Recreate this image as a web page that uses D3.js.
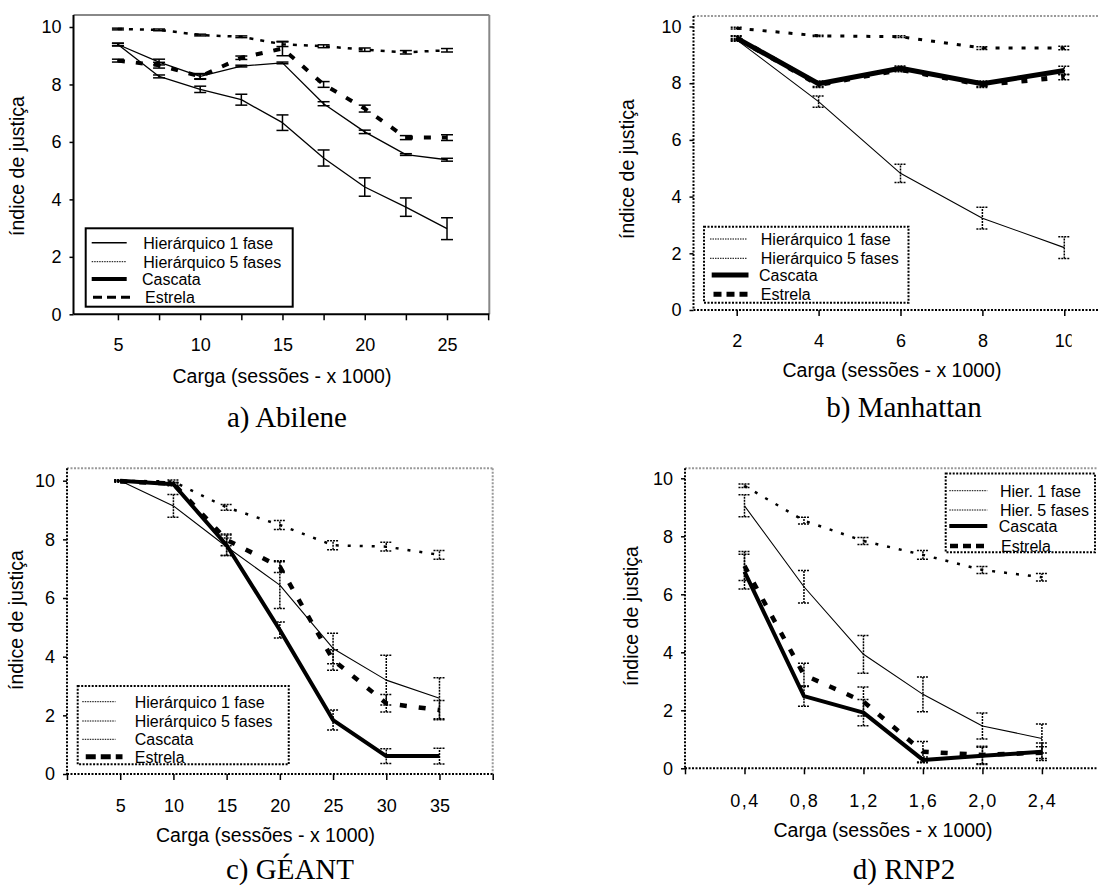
<!DOCTYPE html>
<html lang="pt">
<head>
  <meta charset="UTF-8">
  <title>Índice de justiça por carga</title>
  <script src="https://d3js.org/d3.v7.min.js"></script>
  <style>
    body { margin: 0; background: #fff; }
    svg { display: block; font-family: "Liberation Sans", Arial, sans-serif; }
  </style>
</head>
<body>
<svg id="fig" width="1098" height="887"></svg>
<script>
  // ---- values ----
  const seriesKeys = ["h1", "h5", "cascata", "estrela"];
  const seriesNames = ["Hierárquico 1 fase", "Hierárquico 5 fases", "Cascata", "Estrela"];
  const seriesNamesShort = ["Hier. 1 fase", "Hier. 5 fases", "Cascata", "Estrela"];

  // a) Abilene
  const abileneLoad = [5, 7.5, 10, 12.5, 15, 17.5, 20, 22.5, 25];
  const abileneH1 = [9.39, 8.28, 7.83, 7.47, 6.67, 5.44, 4.43, 3.73, 2.98];
  const abileneH1Err = [0.04, 0.05, 0.11, 0.19, 0.27, 0.28, 0.32, 0.32, 0.38];
  const abileneH5 = [9.93, 9.9, 9.72, 9.66, 9.4, 9.33, 9.21, 9.12, 9.19];
  const abileneH5Err = [0.03, 0.03, 0.03, 0.03, 0.08, 0.05, 0.06, 0.06, 0.06];
  const abileneCascata = [9.39, 8.78, 8.28, 8.64, 8.75, 7.33, 6.35, 5.56, 5.38];
  const abileneCascataErr = [0.05, 0.1, 0.08, 0.03, 0.03, 0.07, 0.06, 0.03, 0.05];
  const abileneEstrela = [8.83, 8.67, 8.28, 8.93, 9.25, 8.0, 7.16, 6.15, 6.15];
  const abileneEstrelaErr = [0.05, 0.1, 0.1, 0.06, 0.25, 0.1, 0.12, 0.07, 0.1];

  // b) Manhattan
  const manhattanLoad = [2, 4, 6, 8, 10];
  const manhattanH1 = [9.53, 7.35, 4.82, 3.24, 2.2];
  const manhattanH1Err = [0.05, 0.2, 0.32, 0.38, 0.38];
  const manhattanH5 = [9.94, 9.67, 9.64, 9.24, 9.24];
  const manhattanH5Err = [0.03, 0.02, 0.03, 0.05, 0.06];
  const manhattanCascata = [9.59, 7.98, 8.53, 7.98, 8.45];
  const manhattanCascataErr = [0.08, 0.1, 0.08, 0.1, 0.15];
  const manhattanEstrela = [9.6, 7.95, 8.48, 7.95, 8.22];
  const manhattanEstrelaErr = [0.06, 0.1, 0.08, 0.1, 0.1];

  // c) GÉANT
  const geantLoad = [5, 10, 15, 20, 25, 30, 35];
  const geantH1 = [10.0, 9.14, 7.75, 6.44, 4.28, 3.2, 2.58];
  const geantH1Err = [0.02, 0.39, 0.3, 0.8, 0.52, 0.85, 0.7];
  const geantH5 = [10.0, 9.97, 9.09, 8.49, 7.8, 7.75, 7.47];
  const geantH5Err = [0.02, 0.05, 0.1, 0.15, 0.15, 0.15, 0.15];
  const geantCascata = [10.0, 9.88, 7.8, 4.91, 1.84, 0.61, 0.61];
  const geantCascataErr = [0.02, 0.05, 0.35, 0.27, 0.34, 0.25, 0.27];
  const geantEstrela = [9.97, 9.9, 7.98, 7.07, 3.89, 2.41, 2.18];
  const geantEstrelaErr = [0.02, 0.05, 0.2, 0.2, 0.35, 0.3, 0.33];

  // d) RNP2
  const rnpLoad = [0.4, 0.8, 1.2, 1.6, 2.0, 2.4];
  const rnpH1 = [9.05, 6.26, 3.93, 2.55, 1.46, 1.03];
  const rnpH1Err = [0.38, 0.56, 0.65, 0.6, 0.45, 0.5];
  const rnpH5 = [9.74, 8.54, 7.84, 7.36, 6.84, 6.59];
  const rnpH5Err = [0.06, 0.12, 0.12, 0.15, 0.12, 0.13];
  const rnpCascata = [6.78, 2.49, 1.92, 0.29, 0.43, 0.57];
  const rnpCascataErr = [0.6, 0.35, 0.45, 0.1, 0.3, 0.3];
  const rnpEstrela = [6.98, 3.22, 2.3, 0.57, 0.46, 0.54];
  const rnpEstrelaErr = [0.5, 0.4, 0.5, 0.35, 0.3, 0.2];

  const yTicks = [0, 2, 4, 6, 8, 10];
  const xTitle = "Carga (sessões - x 1000)";
  const yTitle = "índice de justiça";

  // ---- layout / styles ----
  const thin = { w: 1.3 };
  const fineDot = { w: 1, dash: "1.5,1" };
  const dottedAxis = { w: 2, dash: "2,1.5" };
  const dottedFrame = { w: 2, dash: "2,1.5", color: "#999" };

  const panels = [
    {
      title: "a) Abilene", titleX: 287, titleY: 427,
      left: 73.5, frameRight: 489.3, top: 15, y0: 314.3, y10: 27,
      xDomain: [2.3, 27.57], xRange: [73.5, 489.3],
      xTicks: d3.range(5, 27.51, 2.5), xLabel: d => d % 5 === 0 ? d : "",
      tickBase: 36.7, xTitleX: 282, xTitleY: 383, yTitleX: 24, yTitleY: 166,
      axis: { w: 2 }, frame: { w: 2, color: "#888" }, frameRightSide: true,
      err: { w: 1.5 },
      lines: { h1: thin, h5: { w: 2.5, dash: "4,7" }, cascata: thin, estrela: { w: 4, dash: "7,11" } },
      load: abileneLoad,
      values: { h1: abileneH1, h5: abileneH5, cascata: abileneCascata, estrela: abileneEstrela },
      errors: { h1: abileneH1Err, h5: abileneH5Err, cascata: abileneCascataErr, estrela: abileneEstrelaErr },
      legend: {
        box: [85.7, 228.3, 292.7, 306.7], border: { w: 2 }, names: seriesNames,
        rows: [242.7, 261.7, 279, 297.3], sx: [[91.7, 126.7], [91.7, 126.7], [91.7, 126.7], [93, 130]],
        tx: [143.3, 143.3, 142, 145],
        styles: [{ w: 1.5 }, fineDot, { w: 4 }, { w: 3, dash: "9,5" }]
      }
    },
    {
      title: "b) Manhattan", titleX: 904, titleY: 417,
      left: 693.5, frameRight: 1098, top: 16, y0: 310, y10: 26.5,
      xDomain: [0.945, 11.5], xRange: [693.5, 1125.7],
      xTicks: [2, 4, 6, 8, 10], xLabel: d => d, labelClip: 1071.7,
      tickBase: 36.7, xTitleX: 892, xTitleY: 377, yTitleX: 634, yTitleY: 169,
      axis: dottedAxis, frame: dottedFrame, frameRightSide: false,
      err: { w: 1.5, dash: "2,1" },
      lines: { h1: { w: 1.1 }, h5: { w: 3, dash: "4,9" }, cascata: { w: 5 }, estrela: { w: 5, dash: "6,14" } },
      load: manhattanLoad,
      values: { h1: manhattanH1, h5: manhattanH5, cascata: manhattanCascata, estrela: manhattanEstrela },
      errors: { h1: manhattanH1Err, h5: manhattanH5Err, cascata: manhattanCascataErr, estrela: manhattanEstrelaErr },
      legend: {
        box: [704, 226.7, 908.5, 302.7], border: dottedAxis, names: seriesNames,
        rows: [239, 258.3, 275, 294.3], sx: [[710, 746.8], [710, 746.8], [711.7, 748.5], [713.5, 748.5]],
        tx: [760.8, 760.8, 759, 760.8],
        styles: [fineDot, fineDot, { w: 5 }, { w: 5, dash: "8,5" }]
      }
    },
    {
      title: "c) GÉANT", titleX: 290, titleY: 879,
      left: 67, frameRight: 492.7, top: 468.3, y0: 774, y10: 480.7,
      xDomain: [0, 40], xRange: [67, 492.7],
      xTicks: d3.range(0, 40.1, 5), xLabel: d => (d > 0 && d < 40) ? d : "",
      tickBase: 37.7, xTitleX: 265.5, xTitleY: 842, yTitleX: 23, yTitleY: 620,
      axis: dottedAxis, frame: dottedFrame, frameRightSide: true,
      err: { w: 1.5, dash: "2,1" },
      lines: { h1: { w: 1.1 }, h5: { w: 2.5, dash: "3,9" }, cascata: { w: 4 }, estrela: { w: 4.5, dash: "7,12" } },
      load: geantLoad,
      values: { h1: geantH1, h5: geantH5, cascata: geantCascata, estrela: geantEstrela },
      errors: { h1: geantH1Err, h5: geantH5Err, cascata: geantCascataErr, estrela: geantEstrelaErr },
      legend: {
        box: [77.7, 686, 288.75, 764.3], border: dottedAxis, names: seriesNames,
        rows: [701.7, 721, 739.3, 756.7], sx: [[82.25, 115.5], [82.25, 115.5], [82.25, 115.5], [85.75, 122.5]],
        tx: [134.75, 134.75, 134.75, 134.75],
        styles: [fineDot, fineDot, fineDot, { w: 5, dash: "10,5" }]
      }
    },
    {
      title: "d) RNP2", titleX: 904, titleY: 879,
      left: 685, frameRight: 1098, top: 468.3, y0: 768.3, y10: 478.3,
      xDomain: [0, 2.8], xRange: [685, 1101.4],
      xTicks: [0, 0.4, 0.8, 1.2, 1.6, 2.0, 2.4], xLabel: d => d > 0 ? d3.format(".1f")(d).replace(".", ",") : "",
      tickBase: 38.4, xTitleX: 883, xTitleY: 837, yTitleX: 637.5, yTitleY: 616, letterSpacing: 1.5,
      axis: dottedAxis, frame: dottedFrame, frameRightSide: false,
      err: { w: 1.5, dash: "2,1" },
      lines: { h1: { w: 1.1 }, h5: { w: 2.5, dash: "3,9" }, cascata: { w: 4 }, estrela: { w: 4.5, dash: "7,12" } },
      load: rnpLoad,
      values: { h1: rnpH1, h5: rnpH5, cascata: rnpCascata, estrela: rnpEstrela },
      errors: { h1: rnpH1Err, h5: rnpH5Err, cascata: rnpCascataErr, estrela: rnpEstrelaErr },
      legend: {
        box: [945.7, 473.5, 1095, 552.2], border: dottedAxis, names: seriesNamesShort,
        rows: [490.7, 510, 526, 546], sx: [[949.3, 987.3], [949.3, 987.3], [949.3, 987.3], [950, 987.3]],
        tx: [1000, 1000, 998.7, 1001],
        styles: [fineDot, fineDot, { w: 4 }, { w: 4.5, dash: "8,5" }]
      }
    }
  ];

  const svg = d3.select("#fig");

  function stroke(sel, s) {
    return sel.attr("fill", "none")
      .attr("stroke", s.color || "#000")
      .attr("stroke-width", s.w)
      .attr("stroke-dasharray", s.dash || null);
  }

  function drawPanel(cfg, i) {
    const g = svg.append("g").attr("class", "panel");
    const x = d3.scaleLinear().domain(cfg.xDomain).range(cfg.xRange);
    const y = d3.scaleLinear().domain([0, 10]).range([cfg.y0, cfg.y10]);

    // frame (top / right)
    stroke(g.append("line").attr("x1", cfg.left).attr("x2", cfg.frameRight)
      .attr("y1", cfg.top).attr("y2", cfg.top), cfg.frame);
    if (cfg.frameRightSide) {
      stroke(g.append("line").attr("x1", cfg.frameRight).attr("x2", cfg.frameRight)
        .attr("y1", cfg.top).attr("y2", cfg.y0), cfg.frame);
    }

    // x axis
    if (cfg.labelClip) {
      svg.append("clipPath").attr("id", "clip" + i).append("rect")
        .attr("x", 0).attr("y", 0).attr("width", cfg.labelClip).attr("height", 887);
    }
    const xAxis = g.append("g").attr("transform", `translate(0,${cfg.y0})`)
      .call(d3.axisBottom(x).tickValues(cfg.xTicks).tickFormat(cfg.xLabel).tickSize(6).tickSizeOuter(0))
      .attr("font-family", null).attr("font-size", null);
    xAxis.select(".domain").remove();
    xAxis.selectAll(".tick line").attr("stroke", "#000").attr("stroke-width", 1.5);
    xAxis.selectAll("text").attr("dy", 0).attr("y", cfg.tickBase)
      .attr("fill", "#000").style("font-size", "18px")
      .style("letter-spacing", cfg.letterSpacing ? cfg.letterSpacing + "px" : null);
    if (cfg.labelClip) xAxis.attr("clip-path", `url(#clip${i})`);
    stroke(g.append("line").attr("x1", cfg.left).attr("x2", cfg.frameRight)
      .attr("y1", cfg.y0).attr("y2", cfg.y0), cfg.axis);

    // y axis
    const yAxis = g.append("g").attr("transform", `translate(${cfg.left},0)`)
      .call(d3.axisLeft(y).tickValues(yTicks).tickSize(4).tickSizeOuter(0))
      .attr("font-family", null).attr("font-size", null);
    yAxis.select(".domain").remove();
    yAxis.selectAll(".tick line").attr("stroke", "#000").attr("stroke-width", 1.5);
    yAxis.selectAll("text").attr("x", -12).attr("fill", "#000").style("font-size", "18px");
    stroke(g.append("line").attr("x1", cfg.left).attr("x2", cfg.left)
      .attr("y1", cfg.top).attr("y2", cfg.y0), cfg.axis);

    // titles
    g.append("text").attr("x", cfg.xTitleX).attr("y", cfg.xTitleY)
      .attr("text-anchor", "middle").style("font-size", "19.5px").text(xTitle);
    g.append("text").attr("transform", `translate(${cfg.yTitleX},${cfg.yTitleY}) rotate(-90)`)
      .attr("text-anchor", "middle").style("font-size", "19.5px").text(yTitle);
    g.append("text").attr("x", cfg.titleX).attr("y", cfg.titleY)
      .attr("text-anchor", "middle")
      .style("font-family", "'Liberation Serif', 'Times New Roman', serif")
      .style("font-size", "29px").text(cfg.title);

    // series: error bars + lines
    const line = d3.line().x(d => x(d.x)).y(d => y(d.v));
    ["h1", "h5", "estrela", "cascata"].forEach(key => {
      const pts = cfg.load.map((lx, j) => ({ x: lx, v: cfg.values[key][j], e: cfg.errors[key][j] }));
      const eb = g.append("g").attr("class", "err-" + key);
      pts.forEach(p => {
        const cx = x(p.x), lo = y(p.v - p.e), hi = y(p.v + p.e);
        stroke(eb.append("line").attr("x1", cx).attr("x2", cx).attr("y1", lo).attr("y2", hi), cfg.err);
        stroke(eb.append("line").attr("x1", cx - 6).attr("x2", cx + 6).attr("y1", lo).attr("y2", lo), cfg.err);
        stroke(eb.append("line").attr("x1", cx - 6).attr("x2", cx + 6).attr("y1", hi).attr("y2", hi), cfg.err);
      });
      stroke(g.append("path").datum(pts).attr("d", line), cfg.lines[key])
        .attr("stroke-linejoin", "round");
    });

    // legend
    const lg = cfg.legend;
    stroke(g.append("rect").attr("x", lg.box[0]).attr("y", lg.box[1])
      .attr("width", lg.box[2] - lg.box[0]).attr("height", lg.box[3] - lg.box[1]), lg.border)
      .attr("fill", "#fff");
    seriesKeys.forEach((key, j) => {
      stroke(g.append("line").attr("x1", lg.sx[j][0]).attr("x2", lg.sx[j][1])
        .attr("y1", lg.rows[j]).attr("y2", lg.rows[j]), lg.styles[j]);
      g.append("text").attr("x", lg.tx[j]).attr("y", lg.rows[j] + 6)
        .style("font-size", "16px").text(lg.names[j]);
    });
  }

  panels.forEach(drawPanel);
</script>
</body>
</html>
